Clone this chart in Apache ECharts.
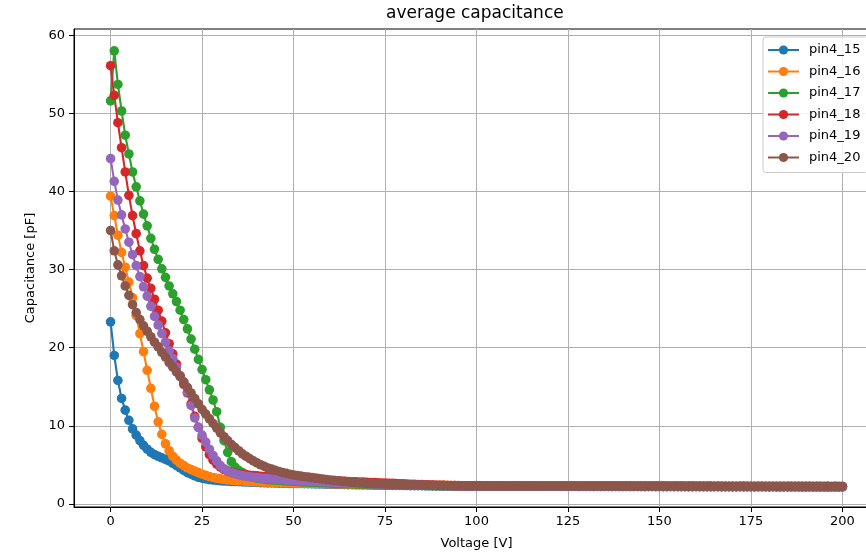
<!DOCTYPE html>
<html>
<head>
<meta charset="utf-8">
<title>average capacitance</title>
<script src="https://cdn.jsdelivr.net/npm/echarts@6/dist/echarts.min.js"></script>
<style>
  html, body { margin: 0; padding: 0; background: #fff; overflow: hidden; }
  #chart { width: 900px; height: 555px; }
</style>
</head>
<body>
<div id="chart"></div>
<script>
// Bias sweep: one reading per volt, 0 V to 200 V
const voltage = [];
for (let v = 0; v <= 200; v++) voltage.push(v);

const seriesNames = ['pin4_15', 'pin4_16', 'pin4_17', 'pin4_18', 'pin4_19', 'pin4_20'];
const xTicks = [0, 25, 50, 75, 100, 125, 150, 175, 200];
const yTicks = [0, 10, 20, 30, 40, 50, 60];

// Average capacitance [pF] per pin, index = voltage
const pin4_15 = [
  23.3, 19.0, 15.8, 13.5, 12.0, 10.7, 9.6, 8.8, 8.1, 7.5,
  7.0, 6.6, 6.3, 6.1, 5.9, 5.7, 5.5, 5.2, 4.9, 4.6,
  4.3, 4.0, 3.8, 3.6, 3.4, 3.3, 3.2, 3.1, 3.05, 3.0,
  2.96, 2.93, 2.9, 2.88, 2.86, 2.84, 2.82, 2.8, 2.78, 2.76,
  2.74, 2.72, 2.7, 2.69, 2.68, 2.67, 2.66, 2.65, 2.64, 2.63,
  2.62, 2.61, 2.6, 2.59, 2.58, 2.57, 2.56, 2.55, 2.54, 2.53,
  2.52, 2.51, 2.5, 2.49, 2.48, 2.47, 2.46, 2.45, 2.44, 2.43,
  2.42, 2.41, 2.4, 2.4, 2.39, 2.38, 2.38, 2.37, 2.36, 2.36,
  2.35, 2.35, 2.34, 2.34, 2.33, 2.33, 2.32, 2.32, 2.31, 2.31,
  2.3, 2.3, 2.3, 2.29, 2.29, 2.29, 2.28, 2.28, 2.28, 2.28,
  2.28, 2.28, 2.27, 2.28, 2.27, 2.27, 2.27, 2.27, 2.26, 2.27,
  2.27, 2.26, 2.27, 2.26, 2.26, 2.27, 2.26, 2.26, 2.26, 2.26,
  2.26, 2.25, 2.26, 2.26, 2.25, 2.26, 2.25, 2.25, 2.26, 2.25,
  2.25, 2.25, 2.25, 2.25, 2.24, 2.25, 2.25, 2.24, 2.25, 2.24,
  2.24, 2.25, 2.24, 2.24, 2.24, 2.24, 2.24, 2.23, 2.24, 2.24,
  2.23, 2.24, 2.23, 2.24, 2.23, 2.23, 2.23, 2.24, 2.23, 2.23,
  2.23, 2.23, 2.22, 2.23, 2.23, 2.22, 2.23, 2.22, 2.23, 2.22,
  2.22, 2.22, 2.23, 2.22, 2.22, 2.22, 2.21, 2.22, 2.22, 2.22,
  2.21, 2.22, 2.21, 2.22, 2.21, 2.21, 2.22, 2.21, 2.21, 2.21,
  2.21, 2.21, 2.2, 2.21, 2.21, 2.2, 2.21, 2.2, 2.21, 2.2,
  2.2
];

const pin4_16 = [
  39.4, 36.9, 34.4, 32.2, 30.3, 28.4, 26.4, 24.1, 21.8, 19.5,
  17.1, 14.8, 12.5, 10.5, 8.9, 7.7, 6.8, 6.1, 5.6, 5.2,
  4.9, 4.6, 4.4, 4.2, 4.0, 3.8, 3.65, 3.5, 3.38, 3.28,
  3.2, 3.13, 3.07, 3.02, 2.98, 2.95, 2.92, 2.89, 2.86, 2.84,
  2.82, 2.8, 2.78, 2.76, 2.74, 2.72, 2.71, 2.7, 2.69, 2.68,
  2.67, 2.66, 2.65, 2.64, 2.63, 2.62, 2.61, 2.6, 2.59, 2.58,
  2.57, 2.56, 2.55, 2.54, 2.53, 2.52, 2.51, 2.5, 2.5, 2.49,
  2.48, 2.48, 2.47, 2.47, 2.46, 2.46, 2.45, 2.45, 2.44, 2.44,
  2.43, 2.43, 2.42, 2.42, 2.41, 2.41, 2.4, 2.4, 2.39, 2.39,
  2.38, 2.38, 2.37, 2.36, 2.35, 2.34, 2.33, 2.32, 2.31, 2.3,
  2.3, 2.29, 2.3, 2.29, 2.29, 2.29, 2.28, 2.29, 2.28, 2.28,
  2.28, 2.28, 2.27, 2.28, 2.27, 2.27, 2.28, 2.27, 2.27, 2.27,
  2.27, 2.26, 2.27, 2.27, 2.26, 2.27, 2.26, 2.26, 2.26, 2.27,
  2.26, 2.26, 2.26, 2.25, 2.26, 2.26, 2.25, 2.26, 2.25, 2.25,
  2.25, 2.26, 2.25, 2.25, 2.25, 2.24, 2.25, 2.25, 2.24, 2.25,
  2.24, 2.24, 2.25, 2.24, 2.24, 2.24, 2.24, 2.23, 2.24, 2.24,
  2.23, 2.24, 2.23, 2.23, 2.24, 2.23, 2.23, 2.23, 2.22, 2.23,
  2.23, 2.22, 2.23, 2.22, 2.22, 2.23, 2.22, 2.22, 2.22, 2.22,
  2.21, 2.22, 2.22, 2.21, 2.22, 2.21, 2.21, 2.22, 2.21, 2.21,
  2.21, 2.21, 2.2, 2.21, 2.21, 2.2, 2.21, 2.2, 2.2, 2.21,
  2.2
];

const pin4_17 = [
  51.6, 58.0, 53.7, 50.3, 47.2, 44.8, 42.5, 40.6, 38.8, 37.1,
  35.6, 34.0, 32.6, 31.3, 30.1, 29.0, 27.9, 26.9, 25.9, 24.8,
  23.6, 22.4, 21.1, 19.8, 18.5, 17.2, 15.9, 14.6, 13.3, 11.8,
  9.8, 8.1, 6.6, 5.4, 4.7, 4.3, 4.0, 3.75, 3.55, 3.4,
  3.3, 3.22, 3.16, 3.11, 3.07, 3.03, 3.0, 2.97, 2.94, 2.91,
  2.88, 2.85, 2.82, 2.8, 2.78, 2.76, 2.74, 2.72, 2.7, 2.68,
  2.66, 2.64, 2.62, 2.6, 2.58, 2.56, 2.55, 2.54, 2.53, 2.52,
  2.51, 2.5, 2.49, 2.48, 2.47, 2.46, 2.45, 2.44, 2.43, 2.42,
  2.41, 2.4, 2.39, 2.38, 2.37, 2.36, 2.35, 2.34, 2.33, 2.32,
  2.31, 2.3, 2.3, 2.29, 2.29, 2.28, 2.28, 2.28, 2.27, 2.27,
  2.27, 2.27, 2.26, 2.27, 2.26, 2.26, 2.27, 2.26, 2.26, 2.26,
  2.25, 2.26, 2.26, 2.25, 2.26, 2.25, 2.25, 2.25, 2.26, 2.25,
  2.25, 2.25, 2.24, 2.25, 2.25, 2.24, 2.25, 2.24, 2.24, 2.25,
  2.24, 2.24, 2.24, 2.24, 2.23, 2.24, 2.24, 2.23, 2.24, 2.23,
  2.23, 2.24, 2.23, 2.23, 2.23, 2.23, 2.22, 2.23, 2.23, 2.22,
  2.23, 2.22, 2.22, 2.23, 2.22, 2.22, 2.22, 2.22, 2.21, 2.22,
  2.22, 2.21, 2.22, 2.21, 2.21, 2.22, 2.21, 2.21, 2.21, 2.21,
  2.2, 2.21, 2.21, 2.2, 2.21, 2.2, 2.2, 2.21, 2.2, 2.2,
  2.2, 2.2, 2.2, 2.19, 2.2, 2.2, 2.19, 2.2, 2.19, 2.19,
  2.19, 2.2, 2.19, 2.19, 2.19, 2.19, 2.18, 2.19, 2.19, 2.18,
  2.19
];

const pin4_18 = [
  56.1, 52.3, 48.8, 45.6, 42.5, 39.5, 36.9, 34.6, 32.4, 30.5,
  28.9, 27.6, 26.2, 24.8, 23.4, 21.9, 20.5, 19.2, 17.9, 16.4,
  15.3, 14.2, 12.8, 11.2, 9.8, 8.4, 7.3, 6.3, 5.6, 5.1,
  4.7, 4.4, 4.2, 4.05, 3.95, 3.85, 3.78, 3.72, 3.67, 3.62,
  3.58, 3.54, 3.5, 3.46, 3.42, 3.39, 3.36, 3.33, 3.3, 3.27,
  3.24, 3.21, 3.18, 3.15, 3.12, 3.09, 3.06, 3.03, 3.0, 2.98,
  2.96, 2.94, 2.92, 2.9, 2.88, 2.86, 2.84, 2.82, 2.8, 2.78,
  2.76, 2.74, 2.72, 2.7, 2.68, 2.66, 2.64, 2.62, 2.6, 2.58,
  2.56, 2.54, 2.52, 2.5, 2.48, 2.46, 2.44, 2.42, 2.4, 2.39,
  2.38, 2.37, 2.36, 2.35, 2.34, 2.33, 2.32, 2.31, 2.31, 2.3,
  2.3, 2.3, 2.29, 2.3, 2.29, 2.29, 2.29, 2.28, 2.29, 2.28,
  2.28, 2.28, 2.28, 2.27, 2.28, 2.27, 2.28, 2.27, 2.27, 2.27,
  2.27, 2.27, 2.26, 2.27, 2.27, 2.26, 2.27, 2.26, 2.26, 2.26,
  2.26, 2.26, 2.26, 2.25, 2.26, 2.26, 2.25, 2.26, 2.25, 2.25,
  2.25, 2.25, 2.26, 2.25, 2.25, 2.25, 2.24, 2.25, 2.25, 2.24,
  2.25, 2.24, 2.24, 2.25, 2.24, 2.24, 2.24, 2.24, 2.23, 2.24,
  2.24, 2.23, 2.24, 2.23, 2.24, 2.23, 2.23, 2.23, 2.23, 2.23,
  2.22, 2.23, 2.23, 2.22, 2.23, 2.22, 2.22, 2.23, 2.22, 2.22,
  2.22, 2.22, 2.21, 2.22, 2.22, 2.21, 2.22, 2.21, 2.22, 2.21,
  2.21, 2.21, 2.21, 2.21, 2.2, 2.21, 2.21, 2.2, 2.21, 2.2,
  2.2
];

const pin4_19 = [
  44.2, 41.3, 38.9, 37.0, 35.2, 33.5, 31.9, 30.5, 29.1, 27.8,
  26.6, 25.3, 24.0, 22.9, 21.8, 20.7, 19.6, 18.6, 17.5, 16.4,
  15.6, 14.3, 12.6, 11.0, 9.8, 8.8, 7.9, 7.0, 6.2, 5.5,
  4.9, 4.5, 4.2, 4.0, 3.85, 3.72, 3.62, 3.54, 3.47, 3.41,
  3.36, 3.31, 3.27, 3.23, 3.19, 3.16, 3.13, 3.1, 3.07, 3.04,
  3.01, 2.98, 2.95, 2.92, 2.9, 2.88, 2.86, 2.84, 2.82, 2.8,
  2.78, 2.76, 2.74, 2.72, 2.7, 2.68, 2.66, 2.64, 2.62, 2.6,
  2.58, 2.56, 2.54, 2.52, 2.5, 2.48, 2.47, 2.46, 2.45, 2.44,
  2.43, 2.42, 2.41, 2.4, 2.39, 2.38, 2.37, 2.36, 2.35, 2.34,
  2.33, 2.32, 2.31, 2.3, 2.3, 2.29, 2.29, 2.28, 2.28, 2.28,
  2.27, 2.28, 2.27, 2.27, 2.27, 2.26, 2.27, 2.26, 2.26, 2.27,
  2.26, 2.26, 2.26, 2.25, 2.26, 2.26, 2.25, 2.26, 2.25, 2.25,
  2.25, 2.25, 2.25, 2.24, 2.25, 2.25, 2.24, 2.25, 2.24, 2.24,
  2.24, 2.25, 2.24, 2.24, 2.24, 2.23, 2.24, 2.24, 2.23, 2.24,
  2.23, 2.23, 2.24, 2.23, 2.23, 2.23, 2.23, 2.22, 2.23, 2.23,
  2.22, 2.23, 2.22, 2.22, 2.23, 2.22, 2.22, 2.22, 2.22, 2.21,
  2.22, 2.22, 2.21, 2.22, 2.21, 2.21, 2.22, 2.21, 2.21, 2.21,
  2.21, 2.2, 2.21, 2.21, 2.2, 2.21, 2.2, 2.2, 2.21, 2.2,
  2.2, 2.2, 2.2, 2.19, 2.2, 2.2, 2.19, 2.2, 2.19, 2.19,
  2.19, 2.19, 2.2, 2.19, 2.19, 2.19, 2.18, 2.19, 2.19, 2.18,
  2.19
];

const pin4_20 = [
  35.0, 32.4, 30.6, 29.2, 27.9, 26.7, 25.5, 24.5, 23.6, 22.8,
  22.1, 21.4, 20.7, 20.1, 19.4, 18.8, 18.1, 17.5, 16.9, 16.3,
  15.6, 14.9, 14.2, 13.5, 12.8, 12.1, 11.5, 10.9, 10.3, 9.7,
  9.1, 8.6, 8.1, 7.6, 7.2, 6.8, 6.4, 6.1, 5.8, 5.5,
  5.25, 5.0, 4.8, 4.6, 4.45, 4.3, 4.15, 4.0, 3.9, 3.8,
  3.7, 3.62, 3.55, 3.48, 3.42, 3.36, 3.3, 3.24, 3.18, 3.12,
  3.06, 3.01, 2.96, 2.91, 2.86, 2.81, 2.77, 2.73, 2.69, 2.66,
  2.63, 2.61, 2.59, 2.57, 2.55, 2.53, 2.51, 2.49, 2.47, 2.46,
  2.45, 2.44, 2.43, 2.42, 2.41, 2.4, 2.39, 2.38, 2.37, 2.36,
  2.35, 2.34, 2.33, 2.33, 2.32, 2.32, 2.31, 2.31, 2.3, 2.3,
  2.3, 2.3, 2.29, 2.3, 2.29, 2.29, 2.3, 2.29, 2.29, 2.29,
  2.29, 2.29, 2.28, 2.29, 2.29, 2.28, 2.29, 2.28, 2.28, 2.29,
  2.28, 2.28, 2.28, 2.29, 2.28, 2.28, 2.28, 2.28, 2.27, 2.28,
  2.28, 2.28, 2.27, 2.28, 2.28, 2.27, 2.28, 2.27, 2.27, 2.28,
  2.27, 2.27, 2.28, 2.27, 2.27, 2.27, 2.27, 2.28, 2.27, 2.27,
  2.27, 2.27, 2.27, 2.26, 2.27, 2.27, 2.27, 2.26, 2.27, 2.27,
  2.26, 2.27, 2.26, 2.27, 2.26, 2.26, 2.27, 2.26, 2.26, 2.26,
  2.26, 2.26, 2.26, 2.27, 2.26, 2.26, 2.26, 2.26, 2.25, 2.26,
  2.26, 2.26, 2.25, 2.26, 2.26, 2.25, 2.26, 2.25, 2.26, 2.25,
  2.25, 2.26, 2.25, 2.25, 2.25, 2.26, 2.25, 2.25, 2.25, 2.25,
  2.25
];

const seriesValues = [pin4_15, pin4_16, pin4_17, pin4_18, pin4_19, pin4_20];
const palette = ['#1f77b4', '#ff7f0e', '#2ca02c', '#d62728', '#9467bd', '#8c564b'];
const FONT = 'DejaVu Sans';

const chart = echarts.init(document.getElementById('chart'), null, { renderer: 'canvas' });

chart.setOption({
  animation: false,
  backgroundColor: '#ffffff',
  textStyle: { fontFamily: FONT, color: '#000' },
  title: {
    text: 'average capacitance',
    left: 386,
    top: 5,
    padding: 0,
    textStyle: { fontFamily: FONT, fontSize: 17, fontWeight: 'normal', color: '#000' }
  },
  legend: {
    data: seriesNames,
    orient: 'vertical',
    left: 763,
    top: 37,
    padding: [6, 8, 8, 4],
    itemWidth: 31,
    itemHeight: 11.5,
    itemGap: 7.5,
    backgroundColor: 'rgba(255,255,255,0.85)',
    borderColor: '#cccccc',
    borderWidth: 1,
    borderRadius: 3,
    selectedMode: false,
    textStyle: { fontFamily: FONT, fontSize: 13, color: '#000', lineHeight: 14, padding: [0, 0, 0, 5] }
  },
  grid: {
    left: 74,
    top: 29,
    right: 21,
    bottom: 47,
    show: true,
    borderColor: '#000',
    borderWidth: 1,
    containLabel: false
  },
  xAxis: {
    type: 'value',
    min: -10,
    max: 210,
    name: 'Voltage [V]',
    nameLocation: 'middle',
    nameGap: 30,
    nameTextStyle: { fontFamily: FONT, fontSize: 13, color: '#000' },
    axisLine: { show: true, onZero: false, lineStyle: { color: '#000', width: 1 } },
    axisTick: { show: true, inside: false, length: 5, customValues: xTicks, lineStyle: { color: '#000', width: 1 } },
    axisLabel: { customValues: xTicks, margin: 8, fontFamily: FONT, fontSize: 13, color: '#000' },
    splitLine: { show: true, lineStyle: { color: '#b0b0b0', width: 1 } }
  },
  yAxis: {
    type: 'value',
    min: -0.4,
    max: 60.8,
    name: 'Capacitance [pF]',
    nameLocation: 'middle',
    nameGap: 35,
    nameTextStyle: { fontFamily: FONT, fontSize: 13, color: '#000' },
    axisLine: { show: true, onZero: false, lineStyle: { color: '#000', width: 1 } },
    axisTick: { show: true, inside: false, length: 5, customValues: yTicks, lineStyle: { color: '#000', width: 1 } },
    axisLabel: { customValues: yTicks, margin: 9, fontFamily: FONT, fontSize: 13, color: '#000' },
    splitLine: { show: true, lineStyle: { color: '#b0b0b0', width: 1 } }
  },
  series: seriesNames.map((name, i) => ({
    name: name,
    type: 'line',
    data: voltage.map((v, k) => [v, seriesValues[i][k]]),
    color: palette[i],
    symbol: 'circle',
    symbolSize: 9.6,
    showSymbol: true,
    showAllSymbol: true,
    lineStyle: { width: 2.1, color: palette[i] },
    itemStyle: { color: palette[i], borderWidth: 0 },
    emphasis: { disabled: true },
    clip: true
  }))
});
</script>
</body>
</html>
